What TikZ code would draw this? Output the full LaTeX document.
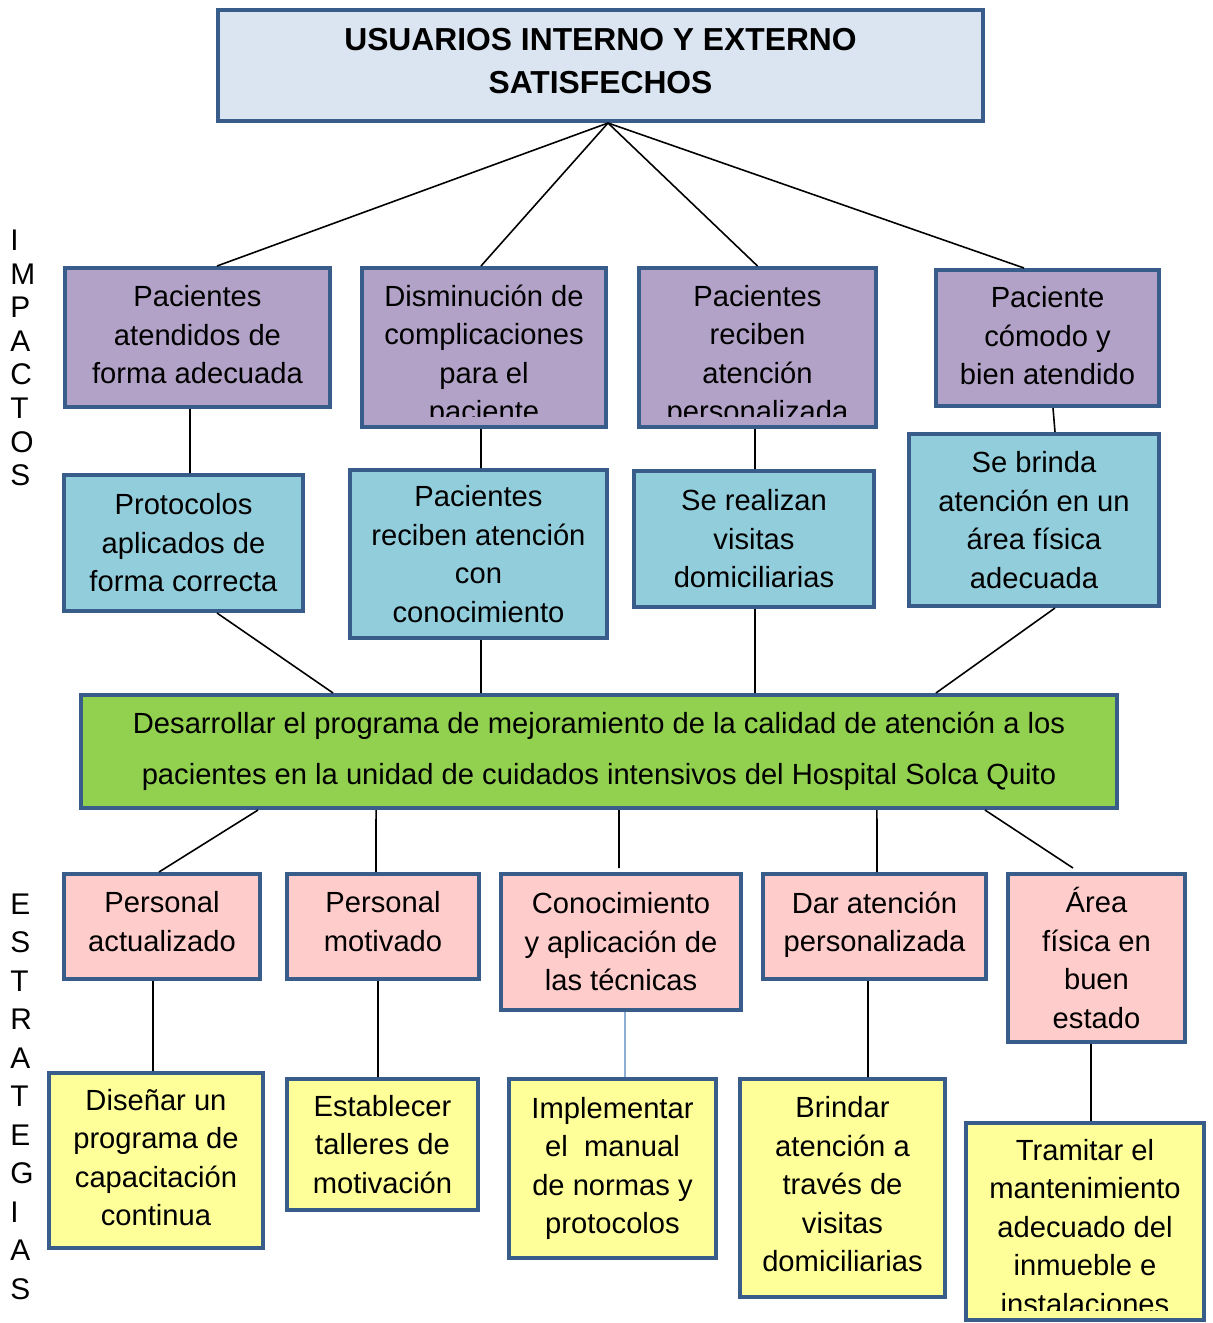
\documentclass[tikz,border=0pt]{standalone}
\usepackage{fontspec}
\setmainfont{Liberation Sans}
\usepackage{tikz}
\usetikzlibrary{arrows}

\definecolor{borde}{RGB}{56,93,138}
\definecolor{titulo}{RGB}{219,229,241}
\definecolor{impacto}{RGB}{178,162,199}
\definecolor{resultado}{RGB}{146,205,220}
\definecolor{proposito}{RGB}{146,208,80}
\definecolor{estrategia}{RGB}{255,204,204}
\definecolor{actividad}{RGB}{255,255,153}
\definecolor{azul}{RGB}{79,129,189}

\begin{document}
\begin{tikzpicture}[x=0.02cm, y=-0.02cm,
  caja/.style={draw=borde, line width=0.08cm, align=center, inner sep=0pt,
    font=\fontsize{16.6}{21.9}\selectfont},
  dim/.style 2 args={minimum width=#1*0.02cm, minimum height=#2*0.02cm},
  linea/.style={line width=0.9pt, black},
  letras/.style={align=left, inner sep=0pt, anchor=west}]

  \useasboundingbox (0,0) rectangle (1213,1323);

  % fin
  \node[caja, fill=titulo, dim={765}{111}, text depth=0.2cm,
    font=\bfseries\fontsize{18.1}{24.4}\selectfont] (obj) at (600.5,65.5)
    {USUARIOS INTERNO Y EXTERNO\\SATISFECHOS};
  \coordinate (hub) at ([xshift=0.15cm]obj.south);

  % impactos
  \node[caja, fill=impacto, dim={265}{139}, text depth=0.12cm] (i1) at (197.5,337.5) {Pacientes\\atendidos de\\forma adecuada};
  \node[caja, fill=impacto, dim={244}{159}] (i2) at (484,347.5) {};
  \node[caja, fill=impacto, dim={237}{159}] (i3) at (757.5,347.5) {};
  \node[caja, fill=impacto, dim={223}{136}, text depth=0.1cm] (i4) at (1047.5,338) {Paciente\\cómodo y\\bien atendido};
  \begin{scope}
    \clip (i2.north west) rectangle ([yshift=0.26cm]i2.south east);
    \node[caja, draw=none] (i2t) at ([yshift=-0.18cm]i2.center) {Disminución de\\complicaciones\\para el\\paciente};
  \end{scope}
  \begin{scope}
    \clip (i3.north west) rectangle ([yshift=0.26cm]i3.south east);
    \node[caja, draw=none] (i3t) at ([yshift=-0.18cm]i3.center) {Pacientes\\reciben\\atención\\personalizada};
  \end{scope}

  % resultados
  \node[caja, fill=resultado, dim={239}{136}] (m1) at (183.5,543) {Protocolos\\aplicados de\\forma correcta};
  \node[caja, fill=resultado, dim={257}{168}] (m2) at (478.5,554) {Pacientes\\reciben atención\\con\\conocimiento};
  \node[caja, fill=resultado, dim={240}{136}] (m3) at (754,539) {Se realizan\\visitas\\domiciliarias};
  \node[caja, fill=resultado, dim={250}{172}] (m4) at (1034,520) {Se brinda\\atención en un\\área física\\adecuada};

  % proposito
  \node[caja, fill=proposito, dim={1036}{113},
    font=\fontsize{16.6}{29}\selectfont] (prop) at (599,751.5)
    {Desarrollar el programa de mejoramiento de la calidad de atención a los\\pacientes en la unidad de cuidados intensivos del Hospital Solca Quito};

  % estrategias
  \node[caja, fill=estrategia, dim={196}{105}, text depth=0.2cm] (s1) at (162,926.5) {Personal\\actualizado};
  \node[caja, fill=estrategia, dim={192}{105}, text depth=0.2cm] (s2) at (383,926.5) {Personal\\motivado};
  \node[caja, fill=estrategia, dim={240}{136}] (s3) at (621,942) {Conocimiento\\y aplicación de\\las técnicas};
  \node[caja, fill=estrategia, dim={223}{105}, text depth=0.2cm] (s4) at (874.5,926.5) {Dar atención\\personalizada};
  \node[caja, fill=estrategia, dim={177}{168}] (s5) at (1096.5,958) {Área\\física en\\buen\\estado};

  % actividades
  \node[caja, fill=actividad, dim={214}{175}, text depth=0.12cm] (b1) at (156,1160.5) {Diseñar un\\programa de\\capacitación\\continua};
  \node[caja, fill=actividad, dim={191}{131}] (b2) at (382.5,1144.5) {Establecer\\talleres de\\motivación};
  \node[caja, fill=actividad, dim={207}{179}] (b3) at (612.5,1168.5) {Implementar\\el~ manual\\de normas y\\protocolos};
  \node[caja, fill=actividad, dim={205}{218}, text depth=0.16cm] (b4) at (842.5,1188) {Brindar\\atención a\\través de\\visitas\\domiciliarias};
  \node[caja, fill=actividad, dim={238}{197}] (b5) at (1085,1221.5) {};
  \begin{scope}
    \clip (b5.north west) rectangle ([yshift=0.24cm]b5.south east);
    \node[caja, draw=none] (b5t) at ([yshift=-0.11cm]b5.center) {Tramitar el\\mantenimiento\\adecuado del\\inmueble e\\instalaciones};
  \end{scope}

  \node[letras, font=\fontsize{17}{19.1}\selectfont] (imp) at (10,358) {I\\M\\P\\A\\C\\T\\O\\S};
  \node[letras, font=\fontsize{17}{21.9}\selectfont] (est) at (10,1096.5) {E\\S\\T\\R\\A\\T\\E\\G\\I\\A\\S};

  \draw[linea] (hub) -- ([xshift=0.39cm]i1.north);
  \draw[linea] (hub) -- ([xshift=-0.06cm]i2.north);
  \draw[linea] (hub) -- (i3.north);
  \draw[linea] (hub) -- ([xshift=-0.47cm]i4.north);

  \draw[linea] ([xshift=-0.15cm]i1.south) -- ([xshift=0.13cm]m1.north);
  \draw[linea] ([xshift=-0.06cm]i2.south) -- ([xshift=0.05cm]m2.north);
  \draw[linea] ([xshift=-0.05cm]i3.south) -- ([xshift=0.02cm]m3.north);
  \draw[linea] ([xshift=0.11cm]i4.south) -- ([xshift=0.42cm]m4.north);

  \draw[linea] ([xshift=0.67cm]m1.south) -- ([xshift=-5.32cm]prop.north);
  \draw[linea] ([xshift=0.05cm]m2.south) -- ([xshift=-2.36cm]prop.north);
  \draw[linea] ([xshift=0.02cm]m3.south) -- ([xshift=3.12cm]prop.north);
  \draw[linea] ([xshift=0.42cm]m4.south) -- ([xshift=6.74cm]prop.north);

  \draw[linea] ([xshift=-6.82cm]prop.south) -- ([xshift=-0.06cm]s1.north);
  \draw[linea] ([xshift=-4.46cm]prop.south) -- ([xshift=-0.14cm]s2.north);
  \draw[linea] ([xshift=0.4cm]prop.south) -- ([xshift=-0.04cm,yshift=0.08cm]s3.north);
  \draw[linea] ([xshift=5.56cm]prop.south) -- ([xshift=0.05cm]s4.north);
  \draw[linea] ([xshift=7.72cm]prop.south) -- ([xshift=-0.47cm,yshift=0.08cm]s5.north);

  \draw[linea] ([xshift=-0.18cm]s1.south) -- ([xshift=-0.06cm]b1.north);
  \draw[linea] ([xshift=-0.1cm]s2.south) -- ([xshift=-0.09cm]b2.north);
  \draw[line width=0.7pt, azul] ([xshift=0.08cm]s3.south) -- ([xshift=0.25cm]b3.north);
  \draw[linea] ([xshift=-0.13cm]s4.south) -- ([xshift=0.51cm]b4.north);
  \draw[linea] ([xshift=-0.11cm]s5.south) -- ([xshift=0.12cm]b5.north);
\end{tikzpicture}
\end{document}
